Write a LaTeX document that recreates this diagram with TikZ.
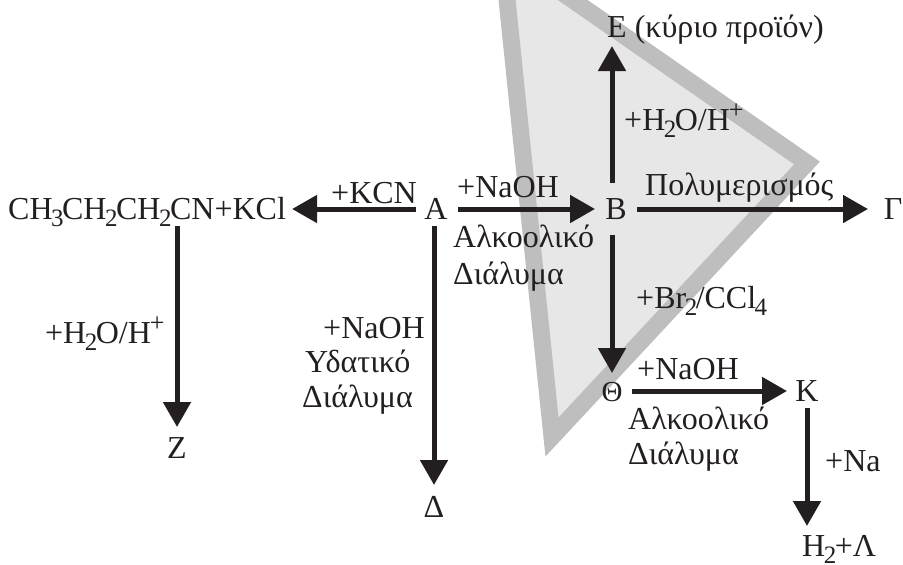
\documentclass[tikz,border=0pt]{standalone}
\usepackage{fontspec}
\setmainfont{Liberation Serif}
\usetikzlibrary{arrows.meta}
\definecolor{ink}{HTML}{231F20}
\definecolor{bandgray}{HTML}{BEBEBE}
\definecolor{fillgray}{HTML}{E7E7E7}
\newcommand{\dn}[1]{\kern-1.5pt\raisebox{-7pt}{\fontsize{25}{25}\selectfont #1}\kern-1.5pt}
\newcommand{\up}[1]{\kern-1pt\raisebox{12pt}{\fontsize{26}{26}\selectfont #1}}
\tikzset{
  lab/.style={anchor=base west,inner sep=0pt,text=ink,font=\fontsize{32}{32}\selectfont},
  atom/.style={anchor=base,inner sep=0pt,text=ink,font=\fontsize{32}{32}\selectfont,text height=20pt,text depth=0pt},
  arr/.style={draw=ink,line width=5pt,-{Triangle[length=25pt,width=27pt]}},
  band/.style={draw=bandgray,line width=17pt,line join=miter,miter limit=20}
}
\begin{document}
\begin{tikzpicture}[x=1pt,y=-1pt]
\useasboundingbox (0,0) rectangle (903,565);
\begin{scope}
\clip (0,0) rectangle (903,565);
\fill[fillgray] (505,-20) -- (552,437) -- (807,163) -- (544,-20) -- cycle;
\draw[band] (505,-20) -- (552,437) -- (807,163) -- (544,-20);
\end{scope}
% main nodes
\node[atom] (A) at (436,219) {Α};
\node[atom] (B) at (616,219) {Β};
\node[atom] (G) at (893,219) {Γ};
\node[lab] (E) at (607,37) {Ε (κύριο προϊόν)};
\node[atom] (Th) at (612,401) {\fontsize{29}{29}\selectfont Θ};
\node[atom] (K) at (807,401) {Κ};
\node[lab] (HL) at (802,556) {Η\dn{2}+Λ};
\node[lab] (P) at (8,219) {CH\dn{3}CH\dn{2}CH\dn{2}CN+KCl};
\node[atom] (Z) at (177,458) {Ζ};
\node[atom] (D) at (434,517) {Δ};
% labels
\node[lab] (l1) at (624,130) {+H\dn{2}O/H\up{+}};
\node[lab] (l2) at (457,197) {+NaOH};
\node[lab] (l3) at (645,195) {Πολυμερισμός};
\node[lab] (l4) at (453,247) {Αλκοολικό};
\node[lab] (l5) at (453,284) {Διάλυμα};
\node[lab] (l6) at (636,308) {+Br\dn{2}/CCl\dn{4}};
\node[lab] (l7) at (637,379) {+NaOH};
\node[lab] (l8) at (628,429) {Αλκοολικό};
\node[lab] (l9) at (628,464) {Διάλυμα};
\node[lab] (l10) at (825,471) {+Na};
\node[lab] (l11) at (331,203) {+KCN};
\node[lab] (l12) at (45,343) {+H\dn{2}O/H\up{+}};
\node[lab] (l13) at (323,338) {+NaOH};
\node[lab] (l14) at (305,372) {Υδατικό};
\node[lab] (l15) at (302,407) {Διάλυμα};
% connectors
\draw[arr,shorten <=22pt,shorten >=21pt] (A.center) -- (B.center);
\draw[arr,shorten <=21pt,shorten >=25pt] (B.center) -- (G.center);
\draw[arr,shorten <=26pt,shorten >=9pt] (Th.center |- B.center) -- (Th.center |- E.base);
\draw[arr,shorten <=26pt,shorten >=18pt] (Th.center |- B.center) -- (Th.center);
\draw[arr,shorten <=20pt,shorten >=20pt] (Th.center) -- (K.center);
\draw[arr,shorten <=17pt,shorten >=30pt] (K.center) -- (K.center |- HL.base);
\draw[arr,shorten <=20pt,shorten >=6pt] (A.center) -- (A.center -| P.east);
\draw[arr,shorten <=7pt,shorten >=21pt] (Z.center |- P.base) -- (Z.center);
\draw[arr,shorten <=17pt,shorten >=22pt] (D.center |- A.center) -- (D.center);
\end{tikzpicture}
\end{document}
